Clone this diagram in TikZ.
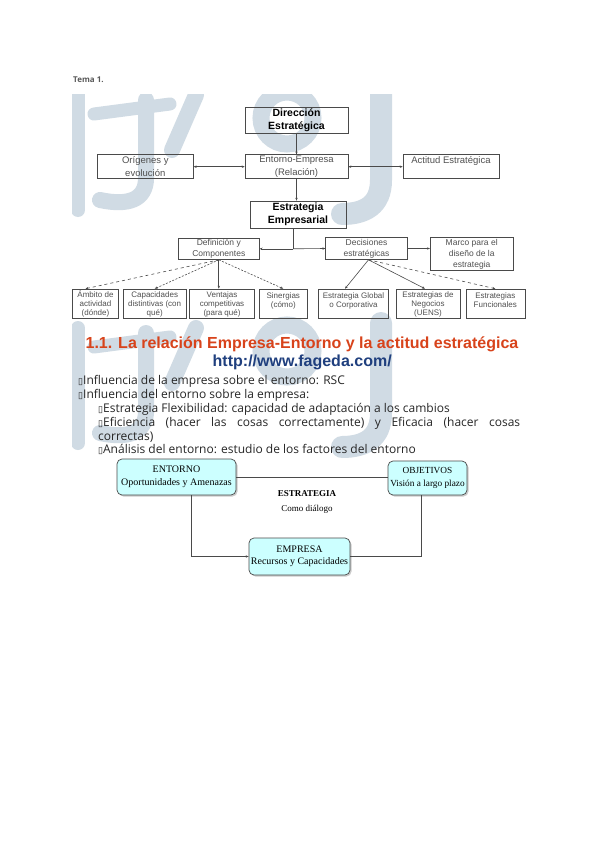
\documentclass[tikz,border=0pt]{standalone}
\usepackage{fontspec}
\setmainfont{Liberation Sans}
\newfontfamily\slidefont{Open Sans}
\newfontfamily\serifbox{Liberation Serif}
\newfontfamily\glyphfont{DejaVu Sans}
\usetikzlibrary{arrows.meta,positioning,shadows}
\definecolor{wmark}{HTML}{D0DBE4}
\definecolor{edge}{HTML}{4A4A4A}
\definecolor{labgray}{HTML}{505050}
\definecolor{titlered}{HTML}{D8431B}
\definecolor{urlblue}{HTML}{1F3F7E}
\definecolor{paleaqua}{HTML}{CCFFFF}
\newcommand{\boxmark}{{\glyphfont\fontsize{9}{9}\selectfont ▯}}

\begin{document}
\begin{tikzpicture}[x=1pt,y=-1pt,
  box/.style={draw=edge,line width=0.6pt,inner sep=0pt,align=center,
    text=labgray,font=\fontsize{9.5}{12.5}\selectfont},
  headbox/.style={box,text=black,font=\bfseries\fontsize{10.5}{13}\selectfont},
  midbox/.style={box,font=\fontsize{8.5}{10.8}\selectfont},
  leafbox/.style={box,minimum height=29pt,text height=26.5pt,
    font=\fontsize{8}{9.3}\selectfont},
  aquabox/.style={draw=edge,fill=paleaqua,rounded corners=5pt,line width=0.7pt,
    align=center,inner sep=0pt,font=\serifbox\fontsize{10}{12.5}\selectfont,
    drop shadow={shadow xshift=1.5pt,shadow yshift=-1.5pt,fill=black!40}},
  link/.style={draw=edge,line width=0.6pt},
  onearrow/.style={link,-{Stealth[length=3pt,width=2.4pt]}},
  twoway/.style={link,{Stealth[length=3pt,width=2.4pt]}-{Stealth[length=3pt,width=2.4pt]}},
  bulletline/.style={anchor=base west,inner sep=0pt,text=black!85,
    font=\slidefont\fontsize{12}{13.5}\selectfont},
  wm/.style={wmark,line width=16pt,line cap=round}]
\fill[white] (0,0) rectangle (599,848);
\useasboundingbox (0,0) rectangle (599,848);

% watermark
\begin{scope}
\clip (72,95) rectangle (528,600);
\foreach \dy in {0,233}{
  \begin{scope}[yshift=-\dy pt]
  \draw[wm,line width=14pt] (78,95) -- (78,210);
  \draw[wm,line width=13pt] (94,114) -- (170,104);
  \draw[wm] (146,100) -- (146,178) .. controls (146,200) and (128,206) .. (100,200);
  \draw[wm] (196,95) -- (172,150);
  \draw[wm,line width=17pt] (287,118) circle (26);
  \draw[wm,line width=22pt] (381,90) -- (381,180) .. controls (381,205) and (365,214) .. (342,214);
  \end{scope}}
\end{scope}

\node[anchor=base west,inner sep=0pt,text=black!65,
  font=\slidefont\bfseries\fontsize{8}{10}\selectfont] (tema) at (73,83) {Tema 1.};

% strategy map
\node[headbox,minimum width=103pt,minimum height=26pt] (dir) at (296.5,120) {Dirección\\Estratégica};
\node[box,minimum width=103pt,minimum height=24pt] (rel) at (296.5,166.7) {Entorno-Empresa\\(Relación)};
\node[box,minimum width=96pt,minimum height=24pt] (orig) at (145.3,166.7) {Orígenes y\\evolución};
\node[box,minimum width=96pt,minimum height=24pt] (act) at (451,166.7) {Actitud Estratégica\\\mbox{}};
\node[headbox,minimum width=96pt,minimum height=27pt] (estr) at (298,214.5) {Estrategia\\Empresarial};
\node[midbox,minimum width=81pt,minimum height=21.5pt] (defi) at (218.8,248.8) {Definición y\\Componentes};
\node[midbox,minimum width=81.6pt,minimum height=22pt] (deci) at (366.5,248.5) {Decisiones\\estratégicas};
\node[midbox,minimum width=83pt,minimum height=33.5pt] (marco) at (471.7,254) {Marco para el\\diseño de la\\estrategia};

\node[leafbox,minimum width=46pt] (amb) at (95.5,303.5) {Ámbito de\\actividad\\(dónde)};
\node[leafbox,minimum width=63pt] (cap) at (154.7,303.5) {Capacidades\\distintivas (con\\qué)};
\node[leafbox,minimum width=65pt] (ven) at (222,303.5) {Ventajas\\competitivas\\(para qué)};
\node[leafbox,minimum width=48pt] (sin) at (283.3,303.5) {Sinergias\\(cómo)\\\mbox{}};
\node[leafbox,minimum width=70pt] (glob) at (353.5,303.5) {Estrategia Global\\o Corporativa\\\mbox{}};
\node[leafbox,minimum width=64pt] (neg) at (428,303.5) {Estrategias de\\Negocios\\(UENS)};
\node[leafbox,minimum width=59pt] (fun) at (495.3,303.5) {Estrategias\\Funcionales\\\mbox{}};

\draw[onearrow] (dir) -- (rel);
\draw[twoway] (orig) -- (rel);
\draw[twoway] (rel) -- (act);
\draw[onearrow] (rel.south) -- (rel.south |- estr.north);
\coordinate (fork) at ([xshift=-4.7pt]estr.south |- defi.east);
\draw[link] (fork |- estr.south) -- (fork);
\draw[onearrow] (fork) -- (defi.east);
\draw[onearrow] (fork) -- (deci.west);
\draw[onearrow] (deci.east) -- (deci.east -| marco.west);
\draw[onearrow,dashed] (defi.south) -- ([xshift=-10pt]amb.north);
\draw[onearrow,dash pattern=on 2pt off 1.5pt] (defi.south) -- (cap.north);
\draw[onearrow,line width=1.1pt] (defi.south) -- (defi.south |- ven.north);
\draw[onearrow,dash pattern=on 2pt off 1.5pt] (defi.south) -- (sin.north);
\draw[onearrow] ([xshift=2pt]deci.south) -- ([xshift=-8.5pt]glob.north);
\draw[onearrow] ([xshift=2pt]deci.south) -- ([xshift=-3pt]neg.north);
\draw[onearrow,dashed] ([xshift=2pt]deci.south) -- (fun.north);

% section text
\node[anchor=base,inner sep=0pt,text=titlered,font=\bfseries\fontsize{16}{18}\selectfont]
  (title) at (302,348.5) {1.1. La relación Empresa-Entorno y la actitud estratégica};
\node[anchor=base,inner sep=0pt,text=urlblue,font=\bfseries\fontsize{16}{18}\selectfont]
  (url) at (302.2,366) {http://www.fageda.com/};
\node[bulletline] (b1) at (78,384) {\boxmark Influencia de la empresa sobre el entorno: RSC};
\node[bulletline] (b2) at (78,398) {\boxmark Influencia del entorno sobre la empresa:};
\node[bulletline] (b3) at (98,412) {\boxmark Estrategia Flexibilidad: capacidad de adaptación a los cambios};
\node[bulletline] (b4) at (98,426) {\makebox[422pt][s]{\boxmark Eficiencia (hacer las cosas correctamente) y Eficacia (hacer cosas}};
\node[bulletline] (b5) at (98,440) {correctas)};
\node[bulletline] (b6) at (98,453.7) {\boxmark Análisis del entorno: estudio de los factores del entorno};

% dialogue diagram
\node[aquabox,minimum width=119pt,minimum height=36pt] (ent) at (176.5,477) {ENTORNO\\Oportunidades y Amenazas};
\node[aquabox,minimum width=79pt,minimum height=34pt,font=\serifbox\fontsize{9.3}{12.5}\selectfont] (obj) at (427.5,478) {OBJETIVOS\\Visión a largo plazo};
\node[aquabox,minimum width=101pt,minimum height=37pt] (emp) at (299.5,556.5) {EMPRESA\\Recursos y Capacidades};
\node[align=center,inner sep=0pt,font=\serifbox\fontsize{9}{15}\selectfont] (dlg) at (307,502) {\textbf{ESTRATEGIA}\\Como diálogo};
\draw[link] (ent.east) -- (ent.east -| obj.west);
\draw[onearrow] ([xshift=14.5pt]ent.south) |- (emp.west);
\draw[link] (emp.east) -| ([xshift=-6.5pt]obj.south);
\end{tikzpicture}
\end{document}
